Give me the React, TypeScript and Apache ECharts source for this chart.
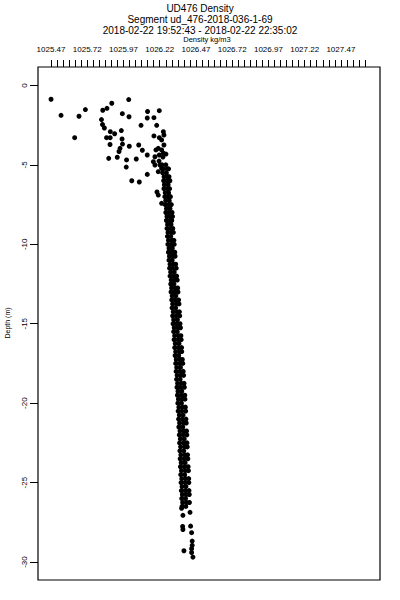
import React, { useEffect, useRef } from "react";
import * as echarts from "echarts";

const titleLines = [
  "UD476 Density",
  "Segment ud_476-2018-036-1-69",
  "2018-02-22 19:52:43 - 2018-02-22 22:35:02",
];
const xAxisName = "Density kg/m3";
const yAxisName = "Depth (m)";

const xTickLabels = [1025.47, 1025.72, 1025.97, 1026.22, 1026.47, 1026.72, 1026.97, 1027.22, 1027.47];
const yTickLabels = [0, -5, -10, -15, -20, -25, -30];

// near-surface scattered samples [density, depth]
const surfacePoints: [number, number][] = [
  [1025.47, -0.87], [1025.539, -1.88], [1025.663, -1.94], [1025.707, -1.52], [1025.633, -3.29],
  [1025.827, -1.56], [1025.856, -1.44], [1025.889, -1.12], [1026.006, -0.89], [1025.962, -1.78],
  [1026.008, -1.97], [1026.136, -1.64], [1026.217, -1.59], [1026.18, -2.03], [1026.134, -2.05],
  [1026.091, -2.51], [1026.199, -2.51], [1025.818, -2.15], [1025.825, -2.46], [1025.838, -2.68],
  [1025.879, -2.91], [1025.909, -3.04], [1025.955, -2.84], [1025.853, -3.29], [1025.878, -3.29],
  [1025.96, -3.37], [1025.963, -3.69], [1025.877, -3.72], [1025.946, -3.96], [1025.939, -4.16],
  [1026.01, -3.83], [1026.075, -3.75], [1026.1, -4.08], [1026.134, -4.38], [1025.868, -4.59],
  [1025.927, -4.52], [1025.991, -4.69], [1026.058, -4.63], [1025.989, -5.14], [1026.134, -5.6],
  [1026.027, -6.0], [1026.079, -6.08],
  [1026.245, -2.91], [1026.249, -3.12], [1026.233, -3.43], [1026.249, -3.75], [1026.21, -3.96],
  [1026.194, -4.06], [1026.233, -4.06], [1026.187, -4.49], [1026.217, -4.38], [1026.245, -4.27],
  [1026.176, -4.8], [1026.222, -5.01], [1026.21, -5.43], [1026.233, -5.22], [1026.18, -3.18],
  [1026.217, -3.29], [1026.187, -5.01], [1026.215, -4.76], [1026.242, -4.51], [1026.263, -4.32],
  [1026.21, -6.9], [1026.233, -7.42], [1026.201, -6.71],
];

// main profile: each row is [depth, density samples...]
const profileRows: number[][] = [
  [-5.0, 1026.236, 1026.262],
  [-5.25, 1026.244, 1026.27, 1026.281],
  [-5.5, 1026.24, 1026.266],
  [-5.75, 1026.25, 1026.274, 1026.284],
  [-6.0, 1026.247, 1026.269, 1026.29],
  [-6.25, 1026.252, 1026.278],
  [-6.5, 1026.249, 1026.273, 1026.288],
  [-6.75, 1026.258, 1026.281],
  [-7.0, 1026.255, 1026.276, 1026.294],
  [-7.25, 1026.261, 1026.286],
  [-7.5, 1026.258, 1026.28, 1026.3],
  [-7.75, 1026.266, 1026.291],
  [-8.0, 1026.262, 1026.284, 1026.305],
  [-8.25, 1026.27, 1026.294, 1026.308],
  [-8.5, 1026.266, 1026.289, 1026.303],
  [-8.75, 1026.274, 1026.298],
  [-9.0, 1026.27, 1026.292, 1026.31],
  [-9.25, 1026.277, 1026.3, 1026.314],
  [-9.5, 1026.273, 1026.296],
  [-9.75, 1026.28, 1026.304, 1026.318],
  [-10.0, 1026.276, 1026.299, 1026.32],
  [-10.25, 1026.284, 1026.307],
  [-10.5, 1026.28, 1026.303, 1026.324],
  [-10.75, 1026.287, 1026.311, 1026.326],
  [-11.0, 1026.284, 1026.306],
  [-11.25, 1026.291, 1026.315, 1026.33],
  [-11.5, 1026.288, 1026.31, 1026.334],
  [-11.75, 1026.295, 1026.32],
  [-12.0, 1026.291, 1026.314, 1026.337],
  [-12.25, 1026.299, 1026.323, 1026.341],
  [-12.5, 1026.296, 1026.318],
  [-12.75, 1026.302, 1026.327, 1026.344],
  [-13.0, 1026.298, 1026.322, 1026.346],
  [-13.25, 1026.306, 1026.331],
  [-13.5, 1026.303, 1026.326, 1026.35],
  [-13.75, 1026.309, 1026.335, 1026.353],
  [-14.0, 1026.305, 1026.33],
  [-14.25, 1026.313, 1026.339, 1026.356],
  [-14.5, 1026.309, 1026.334, 1026.358],
  [-14.75, 1026.316, 1026.342],
  [-15.0, 1026.312, 1026.337, 1026.36],
  [-15.25, 1026.32, 1026.346, 1026.363],
  [-15.5, 1026.316, 1026.341],
  [-15.75, 1026.323, 1026.349, 1026.366],
  [-16.0, 1026.319, 1026.344, 1026.368],
  [-16.25, 1026.327, 1026.353],
  [-16.5, 1026.323, 1026.348, 1026.371],
  [-16.75, 1026.33, 1026.356, 1026.372],
  [-17.0, 1026.326, 1026.351],
  [-17.25, 1026.334, 1026.36, 1026.376],
  [-17.5, 1026.33, 1026.355, 1026.379],
  [-17.75, 1026.337, 1026.363],
  [-18.0, 1026.333, 1026.358, 1026.382],
  [-18.25, 1026.34, 1026.366, 1026.385],
  [-18.5, 1026.336, 1026.361],
  [-18.75, 1026.343, 1026.369, 1026.388],
  [-19.0, 1026.339, 1026.364, 1026.39],
  [-19.25, 1026.346, 1026.372],
  [-19.5, 1026.342, 1026.367, 1026.393],
  [-19.75, 1026.349, 1026.375, 1026.394],
  [-20.0, 1026.345, 1026.37],
  [-20.25, 1026.352, 1026.378, 1026.397],
  [-20.5, 1026.347, 1026.373, 1026.399],
  [-20.75, 1026.355, 1026.381],
  [-21.0, 1026.35, 1026.376, 1026.401],
  [-21.25, 1026.357, 1026.384, 1026.403],
  [-21.5, 1026.352, 1026.379],
  [-21.75, 1026.36, 1026.386, 1026.405],
  [-22.0, 1026.355, 1026.381, 1026.407],
  [-22.25, 1026.362, 1026.389],
  [-22.5, 1026.357, 1026.384, 1026.408],
  [-22.75, 1026.364, 1026.391, 1026.41],
  [-23.0, 1026.359, 1026.386],
  [-23.25, 1026.366, 1026.393, 1026.412],
  [-23.5, 1026.361, 1026.388, 1026.414],
  [-23.75, 1026.368, 1026.395],
  [-24.0, 1026.363, 1026.39, 1026.416],
  [-24.25, 1026.37, 1026.397, 1026.418],
  [-24.5, 1026.365, 1026.392],
  [-24.75, 1026.372, 1026.399, 1026.42],
  [-25.0, 1026.367, 1026.394, 1026.421],
  [-25.25, 1026.374, 1026.401],
  [-25.5, 1026.369, 1026.396, 1026.422],
  [-25.75, 1026.376, 1026.403, 1026.424],
  [-26.0, 1026.372, 1026.398],
  [-26.25, 1026.378, 1026.405, 1026.425],
  [-26.5, 1026.374, 1026.4],
];

// sparse deep samples [density, depth]
const deepPoints: [number, number][] = [
  [1026.371, -26.62], [1026.38, -27.06], [1026.429, -26.87], [1026.378, -27.76], [1026.38, -27.95],
  [1026.433, -27.74], [1026.44, -28.15], [1026.444, -28.68], [1026.444, -28.95], [1026.387, -29.29],
  [1026.44, -29.16], [1026.44, -29.4], [1026.449, -29.69],
];

const FONT = "Liberation Sans, Arial, Helvetica, sans-serif";

export default function App() {
  const ref = useRef<HTMLDivElement>(null);
  useEffect(() => {
    if (!ref.current) return;
    const chart = echarts.init(ref.current, undefined, { renderer: "svg" });
    const profilePoints: [number, number][] = [];
    profileRows.forEach((row) => {
      for (let i = 1; i < row.length; i++) profilePoints.push([row[i], row[0]]);
    });
    const allPoints = [...surfacePoints, ...profilePoints, ...deepPoints];

    const xMinor: number[] = [];
    for (let i = 0; i < xTickLabels.length - 1; i++) {
      for (let k = 0; k < 6; k++) xMinor.push(xTickLabels[i] + (k * 0.25) / 6);
    }
    xMinor.push(xTickLabels[xTickLabels.length - 1]);
    for (let k = 1; k <= 4; k++) xMinor.push(xTickLabels[xTickLabels.length - 1] + (k * 0.25) / 6);

    chart.setOption({
      animation: false,
      backgroundColor: "#ffffff",
      grid: {
        left: 38,
        right: 20,
        top: 67,
        bottom: 20,
        show: true,
        borderColor: "#000",
        borderWidth: 1.2,
        backgroundColor: "transparent",
      },
      graphic: [
        ...titleLines.map((t, i) => ({
          type: "text",
          x: 200,
          y: 8 + i * 11,
          style: {
            text: t,
            fill: "#000",
            font: `10px ${FONT}`,
            textAlign: "center",
            textVerticalAlign: "middle",
          },
        })),
        {
          type: "text",
          x: 207,
          y: 39,
          style: {
            text: xAxisName,
            fill: "#000",
            font: `7.5px ${FONT}`,
            textAlign: "center",
            textVerticalAlign: "middle",
          },
        },
        {
          type: "text",
          x: 7,
          y: 323,
          rotation: Math.PI / 2,
          style: {
            text: yAxisName,
            fill: "#000",
            font: `7px ${FONT}`,
            textAlign: "center",
            textVerticalAlign: "middle",
          },
        },
      ],
      xAxis: {
        type: "value",
        position: "top",
        min: 1025.38,
        max: 1027.74,
        axisLine: { show: false, onZero: false },
        splitLine: { show: false },
        axisTick: {
          show: true,
          length: 7,
          inside: false,
          customValues: xMinor,
          lineStyle: { color: "#000", width: 1 },
        },
        axisLabel: {
          show: true,
          customValues: xTickLabels,
          formatter: (v: number) => v.toFixed(2),
          fontSize: 8,
          fontFamily: FONT,
          color: "#000",
          margin: 14,
        },
      },
      yAxis: {
        type: "value",
        min: -31.13,
        max: 1.16,
        axisLine: { show: false, onZero: false },
        splitLine: { show: false },
        axisTick: {
          show: true,
          length: 8,
          inside: false,
          customValues: yTickLabels,
          lineStyle: { color: "#000", width: 1 },
        },
        axisLabel: {
          show: true,
          customValues: yTickLabels,
          rotate: 90,
          fontSize: 8,
          fontFamily: FONT,
          color: "#000",
          margin: 10,
        },
      },
      series: [
        {
          type: "scatter",
          data: allPoints,
          symbol: "circle",
          symbolSize: 5,
          itemStyle: { color: "#000", opacity: 1 },
          silent: true,
        },
      ],
    });
    return () => chart.dispose();
  }, []);
  return (
    <div
      ref={ref}
      style={{ position: "absolute", left: 0, top: 0, width: 400, height: 600 }}
    />
  );
}
